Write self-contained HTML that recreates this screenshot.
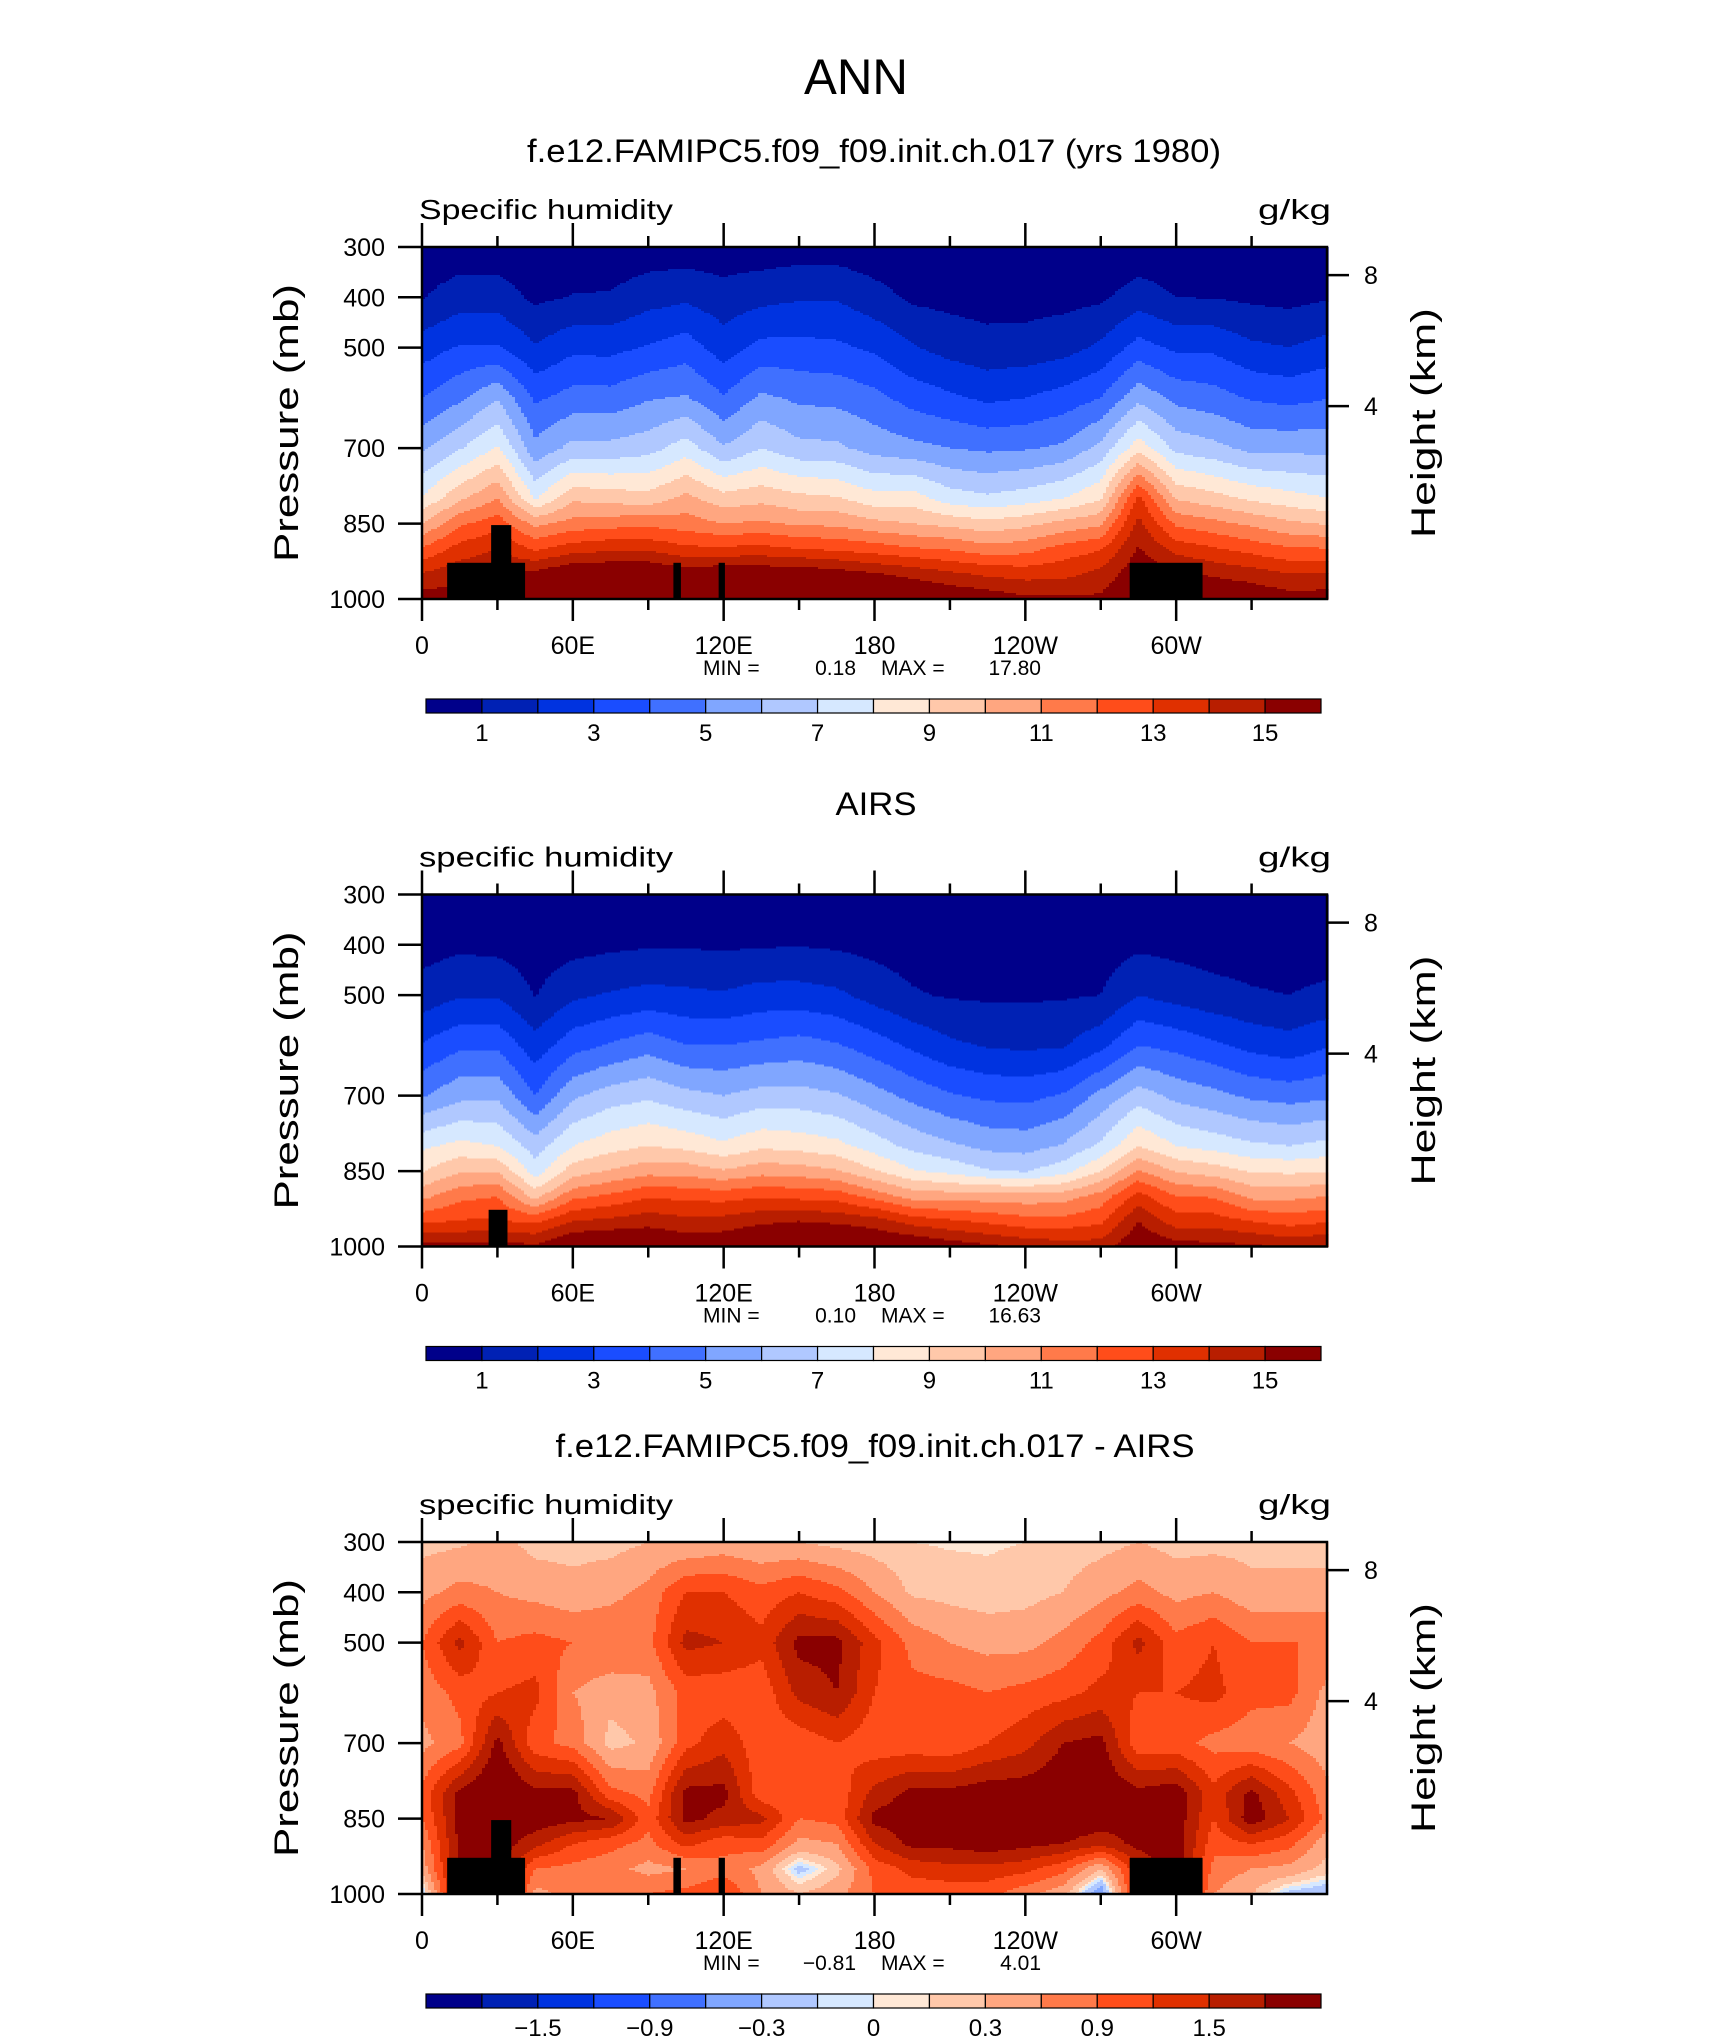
<!DOCTYPE html>
<html><head><meta charset="utf-8"><style>
html,body{margin:0;padding:0;background:#fff;}
svg{display:block;font-family:"Liberation Sans",sans-serif;}
</style></head><body>
<svg id="fig" width="1710" height="2038" viewBox="0 0 1710 2038" xmlns="http://www.w3.org/2000/svg">
<rect x="0" y="0" width="1710" height="2038" fill="#fff"/>
<text x="856" y="94" font-size="50" text-anchor="middle" textLength="104" lengthAdjust="spacingAndGlyphs">ANN</text>
<text x="874" y="162" font-size="32" text-anchor="middle" textLength="694" lengthAdjust="spacingAndGlyphs">f.e12.FAMIPC5.f09_f09.init.ch.017 (yrs 1980)</text>
<text x="876" y="815" font-size="32" text-anchor="middle" textLength="81" lengthAdjust="spacingAndGlyphs">AIRS</text>
<text x="875" y="1457" font-size="32" text-anchor="middle" textLength="639" lengthAdjust="spacingAndGlyphs">f.e12.FAMIPC5.f09_f09.init.ch.017 - AIRS</text>
</svg>
<script>
const lons=[0,15,30,45,60,75,90,105,120,135,150,165,180,195,210,225,240,255,270,285,300,315,330,345,360];
const pres=[300,400,500,600,700,800,850,900,950,1000];
const modelQ=[
[0.3,0.95,2.5,4.0,5.8,8.1,10,12.1,14.1,15.6],
[0.4,1.5,3.1,4.8,6.9,9.8,11.8,13.4,14.7,15.4],
[0.4,1.5,3.1,5.9,8.1,11,12.6,14,15,15.5],
[0.2,0.8,2.1,3.8,5.3,7.9,10.7,12.8,15.3,16.6],
[0.3,1.05,2.75,4.4,6.3,9.8,11.4,13.5,16.1,17],
[0.3,1.1,2.7,4.4,6.3,9.6,11.6,13.8,16.1,17],
[0.4,1.6,3.1,4.9,6.6,9.4,11.7,13.8,16.1,17],
[0.4,1.8,3.5,5.1,7.5,10.3,11.5,13.2,15.6,16.6],
[0.4,1.4,2.5,4.1,6.1,9.4,11,13.2,15.9,16.8],
[0.4,1.7,3.3,5.2,7.0,9.7,11.2,13.3,15.8,16.8],
[0.5,1.9,3.3,4.8,6.3,9.3,10.8,13,15.8,17],
[0.5,1.9,3.2,4.7,6.2,9.1,10.8,12.8,15.5,16.9],
[0.3,1.4,2.8,4.3,5.6,8.4,10.3,12.5,15.1,16.5],
[0.2,0.8,2.1,3.6,5.3,8.5,10,12.1,14.7,16.3],
[0.2,0.7,1.6,3.2,5.0,7.5,9.7,11.9,14.2,16],
[0.2,0.6,1.35,2.8,4.8,7.2,9.3,11.4,13.8,15.7],
[0.2,0.6,1.4,3.0,4.9,7.5,9.7,11.6,13.6,15.2],
[0.2,0.7,1.6,3.4,5.2,8.0,10.3,12.4,13.7,15.2],
[0.2,0.8,2.2,4.0,6.3,8.9,10.8,12.9,14.3,15.2],
[0.3,1.5,3.4,5.7,8.6,13.3,14.3,15.1,15.8,16.3],
[0.3,1.0,2.8,4.7,6.7,9.9,11.8,13.6,15.3,16.3],
[0.3,0.95,2.8,4.4,6.3,9.4,11.3,13.1,14.8,16.3],
[0.2,0.8,2.2,3.9,5.7,8.8,10.8,12.6,14.5,15.9],
[0.2,0.7,2.0,3.7,5.7,8.4,10.2,12.1,14,15.5],
[0.25,0.9,2.4,3.95,5.7,8.05,9.9,12.05,14.05,15.55]];
const airsQ=[
[0.1,0.6,1.4,3.1,4.9,7.8,8.9,10.7,12.8,15.3],
[0.1,0.8,1.9,3.8,5.7,8.3,9.9,11.7,13.1,15.3],
[0.1,0.7,1.9,3.8,5.8,8,9.9,12,13.1,15.5],
[0.1,0.5,0.95,2.4,4.0,6.5,7.5,9.6,12.8,15.2],
[0.1,0.65,1.8,3.6,5.8,8.0,9.5,11.7,14.0,16.3],
[0.1,0.8,2.1,4.1,6.5,8.6,10.1,12.2,14.3,16.4],
[0.1,0.9,2.3,4.6,6.8,9.0,10.6,12.9,14.6,16.3],
[0.1,0.9,2.2,4.0,6.3,8.7,10.6,12.7,14.3,15.8],
[0.1,0.85,2.1,4.0,6.0,8.2,10.1,12.6,14.4,15.9],
[0.1,0.9,2.4,4.2,6.4,8.8,10.6,12.9,14.8,16.4],
[0.1,0.95,2.4,4.4,6.4,8.6,10.5,12.7,15.0,16.8],
[0.1,0.85,2.2,4.1,6.1,8.3,10.1,12.6,14.8,16.7],
[0.1,0.7,1.6,3.5,5.4,7.5,9.1,11.6,14.5,16.3],
[0.1,0.55,1.1,2.8,4.7,6.7,8.1,10.6,13.6,16.1],
[0.1,0.5,0.9,2.2,4.1,6.2,7.7,10.5,13.2,15.6],
[0.1,0.45,0.85,1.9,3.8,5.7,7.1,10.5,12.8,15.2],
[0.1,0.45,0.85,1.8,3.7,5.6,6.9,10.4,12.4,14.8],
[0.1,0.45,0.9,1.9,4.1,6.1,7.6,10.5,12.4,14.5],
[0.1,0.5,1.0,2.7,5.3,7.2,9.0,11.4,12.8,14.5],
[0.1,0.8,2.0,4.0,6.5,9.0,11.1,13.4,15.0,16],
[0.1,0.7,1.6,3.7,5.7,8.0,9.9,12,13.5,15.5],
[0.1,0.6,1.3,3.2,5.3,7.6,9.5,11.9,13.5,15.3],
[0.1,0.55,1.1,2.7,4.8,7.2,8.9,10.7,13,15.2],
[0.1,0.5,1.0,2.4,4.6,7.0,8.8,10.7,12.6,14.8],
[0.1,0.55,1.2,2.9,4.8,7.3,8.9,11,12.9,15]];
const diffQ=[
[0.2,0.5,0.9,0.7,0.5,1.0,0.9,0.6,0.4,-0.2],
[0.25,0.7,1.6,1.0,0.8,1.9,1.9,1.9,1.9,1.9],
[0.4,0.6,0.9,1.2,1.9,2.2,2.2,2,2,2],
[0.2,0.5,1.0,1.3,1.0,1.9,2.0,1.6,0.9,0.5],
[0.2,0.4,0.9,0.6,0.8,1.9,1.9,1.2,0.8,0.7],
[0.2,0.5,0.9,0.4,0.2,1.0,1.8,1.0,0.7,0.8],
[0.3,0.7,0.8,0.5,0.35,0.8,1.0,0.8,0.5,0.9],
[0.3,1.2,1.6,1.0,1.1,1.9,1.9,1.3,0.6,1.0],
[0.4,1.2,1.5,1.0,1.4,1.9,1.7,1.0,0.8,1.2],
[0.3,1.0,1.3,1.0,1.0,1.0,1.6,1.1,0.5,0.6],
[0.3,1.2,1.9,1.6,1.0,1.0,0.9,0.5,-0.2,0.3],
[0.2,1.0,1.9,1.8,1.2,1.0,1.0,0.6,0.2,0.5],
[0.15,0.6,1.3,1.2,1.0,1.6,1.9,1.5,1.0,0.9],
[0.1,0.25,0.8,1.0,1.0,1.9,2.0,1.9,1.3,1.0],
[0.08,0.2,0.6,1.0,0.95,1.9,2.0,1.9,1.4,1.0],
[0.08,0.15,0.5,0.9,1.2,2.0,2.0,2.0,1.4,1.0],
[0.1,0.2,0.5,1.0,1.4,2.0,2.1,1.9,1.3,0.7],
[0.15,0.3,0.7,1.1,1.8,2.1,2.1,1.8,1.0,0.4],
[0.2,0.5,1.0,1.3,1.9,2.1,2.0,1.6,0.3,-0.6],
[0.3,0.7,1.6,1.2,1.0,1.9,1.9,1.9,1.5,1.5],
[0.2,0.5,1.0,1.2,1.0,2.0,2.0,2.0,2,2],
[0.2,0.6,1.2,1.3,0.8,1.3,1.2,1.0,0.8,0.6],
[0.2,0.4,0.9,1.0,0.7,1.9,2.0,1.2,0.6,0.3],
[0.2,0.4,0.9,1.0,0.6,1.3,1.5,1.0,0.5,-0.2],
[0.2,0.4,0.9,0.5,0.4,0.7,0.8,0.4,0.2,-0.3]];
const levelsQ=[1,2,3,4,5,6,7,8,9,10,11,12,13,14,15];
const levelsD=[-1.8,-1.5,-1.2,-0.9,-0.6,-0.3,-0.1,0,0.1,0.3,0.6,0.9,1.2,1.5,1.8];
const labelsQ=["1","3","5","7","9","11","13","15"];
const labelsD=["\u22121.5","\u22120.9","\u22120.3","0","0.3","0.9","1.5"];
const colors=['#00008a','#0021b4','#0033e0','#1a4dff','#4070ff','#80a6ff','#b0c8ff','#d6e8ff','#ffe8d6','#ffc8aa','#ffa680','#ff7a4a','#ff4d1a','#e03000','#b81e00','#8a0000'];
const missing1=[[10,41,928],[27.5,35.5,853],[100,103,928],[118,120.5,928],[281.5,310.5,928]];
const missing2=[[26.5,34,927]];
const lonTicks=[0,60,120,180,240,300];
const lonTickLabels=["0","60E","120E","180","120W","60W"];
const presTicks=[300,400,500,700,850,1000];
const kmTicks=[8,4];
const minVals=["0.18","0.10","\u22120.81"];
const maxVals=["17.80","16.63","4.01"];
const varNames=["Specific humidity","specific humidity","specific humidity"];

const NS="http://www.w3.org/2000/svg";
const svg=document.getElementById('fig');
const X0=422,W=905,H=352,TOPS=[247,894.5,1542];
function xS(l){return X0+l/360*W;}
function yS(p,t){return t+(p-300)/700*H;}
function kmToP(z){return 1013.25*Math.pow(1-2.25577e-5*z*1000,5.2559);}
function mk(tag,attrs,parent){const e=document.createElementNS(NS,tag);for(const k in attrs)e.setAttribute(k,attrs[k]);(parent||svg).appendChild(e);return e;}
function interp(grid,lon,p){
  let i=0;while(i<lons.length-2&&lons[i+1]<=lon)i++;
  let j=0;while(j<pres.length-2&&pres[j+1]<=p)j++;
  const fx=(lon-lons[i])/(lons[i+1]-lons[i]),fy=(p-pres[j])/(pres[j+1]-pres[j]);
  const a=grid[i][j],b=grid[i+1][j],c=grid[i][j+1],d=grid[i+1][j+1];
  return (a*(1-fx)+b*fx)*(1-fy)+(c*(1-fx)+d*fx)*fy;
}
function cidx(v,lev){let k=0;while(k<lev.length&&v>=lev[k])k++;return k;}

const panels=[[modelQ,levelsQ,labelsQ,missing1],[airsQ,levelsQ,labelsQ,missing2],[diffQ,levelsD,labelsD,missing1]];
panels.forEach((pn,pi)=>{
  const [grid,lev,labs,miss]=pn;const T=TOPS[pi];
  const g=mk('g',{});
  
  
  const cw=3,ch=2;
  for(let cx=0;cx<W;cx+=cw){
    const lon=(cx+cw/2)/W*360;
    let start=0,cur=-1;
    for(let cy=0;cy<=H;cy+=ch){
      let k=-2;
      if(cy<H){const p=300+(cy+ch/2)/H*700;k=cidx(interp(grid,lon,p),lev);}
      if(k!==cur){
        if(cur>=0){
          const r=mk('rect',{x:X0+cx,y:T+start,width:cw+0.6,height:Math.min(cy,H)-start+0.6,fill:colors[cur]},g);
          
          
        }
        cur=k;start=cy;
      }
    }
  }
  miss.forEach(m=>{
    const r=mk('rect',{x:xS(m[0]),y:yS(m[2],T),width:xS(m[1])-xS(m[0]),height:yS(1000,T)-yS(m[2],T),fill:'#000'});
    
    
  });
  const fr=mk('rect',{x:X0,y:T,width:W,height:H,fill:'none',stroke:'#000','stroke-width':2.5});
  
  
  for(let l=0;l<360;l+=30){
    const major=l%60===0;
    const t1=mk('line',{x1:xS(l),x2:xS(l),y1:T,y2:T-(major?24:11),stroke:'#000','stroke-width':2.5});
    
    
    const t2=mk('line',{x1:xS(l),x2:xS(l),y1:T+H,y2:T+H+(major?22:11),stroke:'#000','stroke-width':2.5});
    
    
  }
  lonTicks.forEach((l,i)=>{
    const t=mk('text',{x:xS(l),y:T+H+55,'font-size':25,'text-anchor':'middle'});
    t.textContent=lonTickLabels[i];
    
    
  });
  presTicks.forEach(p=>{
    const ln=mk('line',{x1:X0-24,x2:X0,y1:yS(p,T),y2:yS(p,T),stroke:'#000','stroke-width':2.5});
    
    
    const t=mk('text',{x:385,y:yS(p,T)+9,'font-size':25,'text-anchor':'end'});
    t.textContent=String(p);
    
    
  });
  kmTicks.forEach(z=>{
    const y=yS(kmToP(z),T);
    const ln=mk('line',{x1:X0+W,x2:X0+W+22,y1:y,y2:y,stroke:'#000','stroke-width':2.5});
    
    
    const t=mk('text',{x:1364,y:y+9,'font-size':25});
    t.textContent=String(z);
    
    
  });
  const yl=mk('text',{x:0,y:0,'font-size':34,'text-anchor':'middle',textLength:278,lengthAdjust:'spacingAndGlyphs',transform:`translate(298,${T+H/2}) rotate(-90)`});
  yl.textContent='Pressure (mb)';
  
  
  const yr=mk('text',{x:0,y:0,'font-size':34,'text-anchor':'middle',textLength:230,lengthAdjust:'spacingAndGlyphs',transform:`translate(1435,${T+H/2}) rotate(-90)`});
  yr.textContent='Height (km)';
  
  
  const vn=mk('text',{x:419,y:T-28,'font-size':28,textLength:254,lengthAdjust:'spacingAndGlyphs'});
  vn.textContent=varNames[pi];
  
  
  const un=mk('text',{x:1331,y:T-28,'font-size':28,'text-anchor':'end',textLength:73,lengthAdjust:'spacingAndGlyphs'});
  un.textContent='g/kg';
  
  
  const s1=mk('text',{x:703,y:T+428,'font-size':21});s1.textContent='MIN =';
  
  
  const s2=mk('text',{x:856,y:T+428,'font-size':21,'text-anchor':'end'});s2.textContent=minVals[pi];
  
  
  const s3=mk('text',{x:881,y:T+428,'font-size':21});s3.textContent='MAX =';
  
  
  const s4=mk('text',{x:1041,y:T+428,'font-size':21,'text-anchor':'end'});s4.textContent=maxVals[pi];
  
  
  const CB0=426,CBW=895,CBY=T+452,CBH=14,bw=CBW/16;
  colors.forEach((c,k)=>{
    const r=mk('rect',{x:CB0+k*bw,y:CBY,width:bw,height:CBH,fill:c,stroke:'#000','stroke-width':1.2});
    
    
  });
  lev.forEach((v,k)=>{
    if(k%2!==(pi===2?1:0))return;
    const idx=pi===2?(k-1)/2:k/2;
    const t=mk('text',{x:CB0+(k+1)*bw,y:CBY+42,'font-size':24,'text-anchor':'middle'});
    t.textContent=labs[idx];
    
    
  });
});
</script>
</body></html>
